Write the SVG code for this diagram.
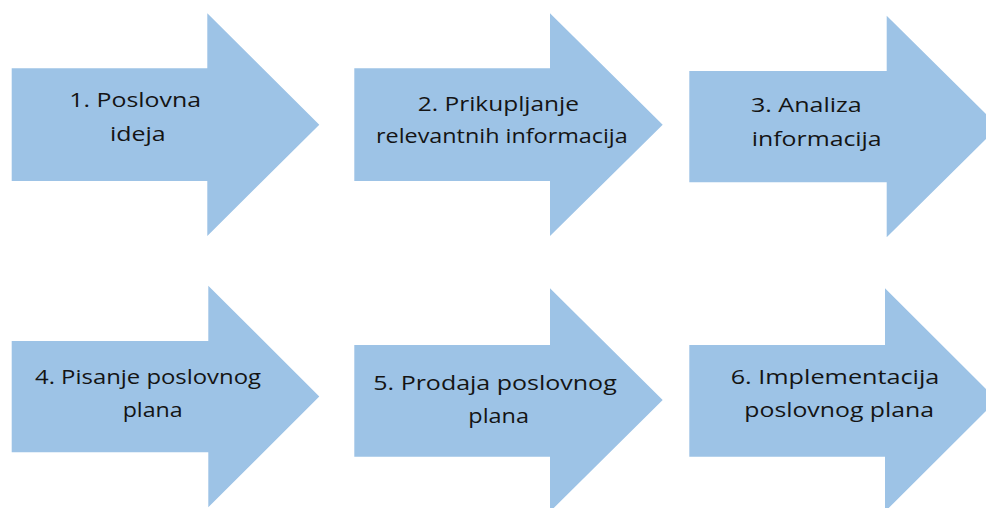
<svg xmlns="http://www.w3.org/2000/svg" width="986" height="508" viewBox="0 0 986 508">
<style>
.arr{fill:#9DC3E6;stroke:none}
.lbl{font-family:"Open Sans","Liberation Sans",Arial,sans-serif;font-size:19.5px;fill:#141414}
</style>
<rect width="986" height="508" fill="#ffffff"/>
<g id="connectors"></g>
<g id="n1">
<polygon class="arr" points="11.7,68.3 207.3,68.3 207.3,13.3 319.3,124.7 207.3,236 207.3,181 11.7,181"/>
<text class="lbl" x="69.3" y="107.3" textLength="131.7" lengthAdjust="spacingAndGlyphs">1. Poslovna</text>
<text class="lbl" x="110" y="141.3" textLength="55.7" lengthAdjust="spacingAndGlyphs">ideja</text>
</g>
<g id="n2">
<polygon class="arr" points="354.3,68.3 550,68.3 550,13.3 662.7,124.7 550,236 550,181 354.3,181"/>
<text class="lbl" x="417.7" y="111" textLength="161.3" lengthAdjust="spacingAndGlyphs">2. Prikupljanje</text>
<text class="lbl" x="376" y="143.3" textLength="251.7" lengthAdjust="spacingAndGlyphs">relevantnih informacija</text>
</g>
<g id="n3">
<polygon class="arr" points="689.3,71 886.7,71 886.7,15.7 998.7,126.5 886.7,237.3 886.7,182.3 689.3,182.3"/>
<text class="lbl" x="751" y="111.7" textLength="110.7" lengthAdjust="spacingAndGlyphs">3. Analiza</text>
<text class="lbl" x="751.7" y="146" textLength="130" lengthAdjust="spacingAndGlyphs">informacija</text>
</g>
<g id="n4">
<polygon class="arr" points="11.7,341 208.3,341 208.3,285.7 319.3,396.5 208.3,507.3 208.3,452.3 11.7,452.3"/>
<text class="lbl" x="35" y="384" textLength="226" lengthAdjust="spacingAndGlyphs">4. Pisanje poslovnog</text>
<text class="lbl" x="122.7" y="416.7" textLength="60" lengthAdjust="spacingAndGlyphs">plana</text>
</g>
<g id="n5">
<polygon class="arr" points="354.3,345 550,345 550,288.3 662.7,400 550,511.7 550,456.7 354.3,456.7"/>
<text class="lbl" x="373.3" y="390" textLength="243.4" lengthAdjust="spacingAndGlyphs">5. Prodaja poslovnog</text>
<text class="lbl" x="468.3" y="423.3" textLength="60.7" lengthAdjust="spacingAndGlyphs">plana</text>
</g>
<g id="n6">
<polygon class="arr" points="689.3,345 885,345 885,288.3 997,400 885,511.7 885,456.7 689.3,456.7"/>
<text class="lbl" x="730.7" y="384.3" textLength="208.6" lengthAdjust="spacingAndGlyphs">6. Implementacija</text>
<text class="lbl" x="744.3" y="416.7" textLength="189.7" lengthAdjust="spacingAndGlyphs">poslovnog plana</text>
</g>
</svg>
